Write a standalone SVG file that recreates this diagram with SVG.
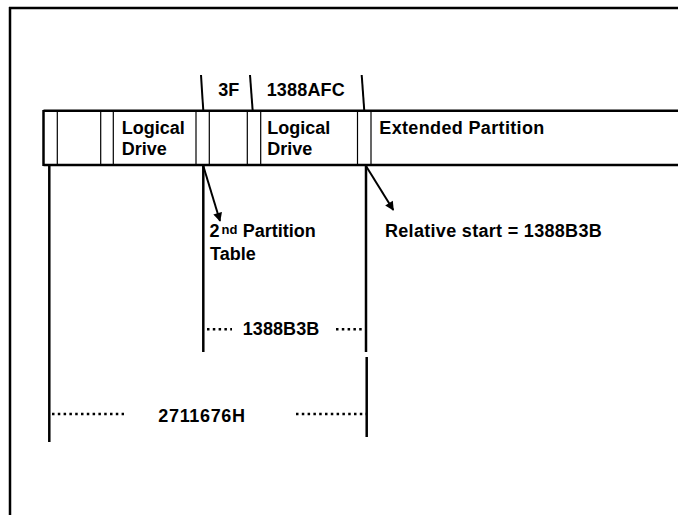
<svg xmlns="http://www.w3.org/2000/svg" width="678" height="515" viewBox="0 0 678 515">
<defs>
<style>
text{font-family:"Liberation Sans",Arial,sans-serif;font-weight:bold;font-size:18px;fill:#000}
.sup{font-size:13px}
.frame{stroke:#000;stroke-width:2.5;fill:none}
.thin{stroke:#000;stroke-width:1.2;fill:none}
.thick{stroke:#000;stroke-width:2.5;fill:none}
.tick{stroke:#000;stroke-width:2;fill:none}
.dots{stroke:#000;stroke-width:2.5;stroke-dasharray:2.5 3.3;fill:none}
.arrow{stroke:#000;stroke-width:2;fill:none;marker-end:url(#ah)}
</style>
<marker id="ah" viewBox="0 0 10 10" refX="9" refY="5" markerWidth="10" markerHeight="9" orient="auto" markerUnits="userSpaceOnUse">
<path d="M0,0 L10,5 L0,10 z" fill="#000"/>
</marker>
</defs>
<rect width="678" height="515" fill="#fff"/>
<g id="frame">
<line class="frame" x1="9" y1="8" x2="678" y2="8"/>
<line class="frame" x1="10" y1="7" x2="10" y2="515"/>
</g>
<g id="partition-bar">
<line class="thick" x1="43.5" y1="110.7" x2="678" y2="110.7" stroke-width="2"/>
<line class="thick" x1="43.5" y1="165" x2="678" y2="165" stroke-width="2"/>
<line class="thick" x1="43.5" y1="110" x2="43.5" y2="166" stroke-width="2"/>
<line class="thin" x1="57.3" y1="111" x2="57.3" y2="165"/>
<line class="thin" x1="100.7" y1="111" x2="100.7" y2="165"/>
<line class="thin" x1="113.3" y1="111" x2="113.3" y2="165"/>
<line class="thin" x1="196" y1="111" x2="196" y2="165"/>
<line class="thin" x1="209.3" y1="111" x2="209.3" y2="165"/>
<line class="thin" x1="247.3" y1="111" x2="247.3" y2="165"/>
<line class="thin" x1="260.7" y1="111" x2="260.7" y2="165"/>
<line class="thin" x1="357.5" y1="111" x2="357.5" y2="165"/>
<line class="thin" x1="371" y1="111" x2="371" y2="165"/>
</g>
<g id="label-logical-1"><text x="121.7" y="134">Logical</text><text x="121.7" y="155">Drive</text></g>
<g id="label-logical-2"><text x="267.3" y="134">Logical</text><text x="267.3" y="155">Drive</text></g>
<g id="label-extended"><text x="379.3" y="134" textLength="165" lengthAdjust="spacing">Extended Partition</text></g>
<g id="top-ticks">
<line class="tick" x1="201" y1="75" x2="203.3" y2="111"/>
<line class="tick" x1="250" y1="75" x2="252.7" y2="111"/>
<line class="tick" x1="361.7" y1="75" x2="364.3" y2="111"/>
<text x="218.3" y="96">3F</text>
<text x="266.7" y="96" textLength="78" lengthAdjust="spacing">1388AFC</text>
</g>
<g id="connectors">
<line class="thick" x1="49.3" y1="165" x2="49.3" y2="442"/>
<line class="thick" x1="203.3" y1="165" x2="203.3" y2="352"/>
<line class="thick" x1="366" y1="165" x2="366" y2="352"/>
<line class="thick" x1="366.7" y1="357" x2="366.7" y2="437"/>
<line class="arrow" x1="203.3" y1="166" x2="220" y2="221"/>
<line class="arrow" x1="366" y1="166" x2="393.3" y2="210"/>
<line class="dots" x1="207" y1="329.3" x2="232" y2="329.3"/>
<line class="dots" x1="336" y1="329.3" x2="362" y2="329.3"/>
<line class="dots" x1="52" y1="414" x2="124" y2="414"/>
<line class="dots" x1="296" y1="414" x2="366" y2="414"/>
</g>
<g id="label-2nd-table">
<text x="209.5" y="237.3">2</text><text class="sup" x="221.5" y="233.5">nd</text>
<text x="242.7" y="237.3">Partition</text>
<text x="210" y="260">Table</text>
</g>
<g id="label-relative"><text x="385" y="237.3" textLength="216.7" lengthAdjust="spacing">Relative start = 1388B3B</text></g>
<g id="label-1388b3b"><text x="242.7" y="335" textLength="76.6" lengthAdjust="spacing">1388B3B</text></g>
<g id="label-2711676h"><text x="158.3" y="421.7" textLength="86.7" lengthAdjust="spacing">2711676H</text></g>
</svg>
